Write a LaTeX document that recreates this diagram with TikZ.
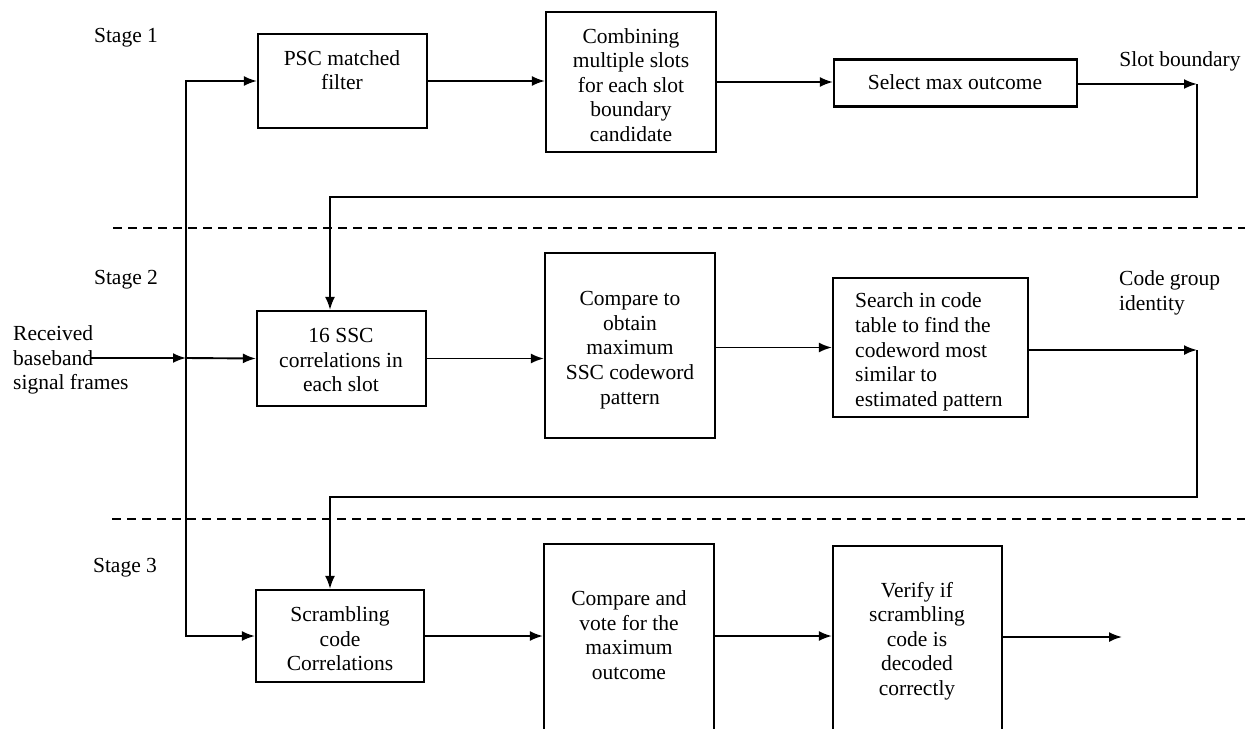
\documentclass[tikz,border=0pt]{standalone}
\usepackage{fontspec}
\setmainfont{Liberation Serif}
\usetikzlibrary{arrows.meta}

\tikzset{
  box/.style={draw, line width=2.2pt, inner sep=0pt},
  txt/.style={inner sep=0pt, align=center, font=\fontsize{21.5}{24.6}\selectfont},
  ltxt/.style={inner sep=0pt, align=left, font=\fontsize{21.5}{24.6}\selectfont},
  wire/.style={line width=1.9pt},
  arr/.style={wire, -{Latex[length=13pt,width=10pt]}},
  stagesep/.style={line width=1.7pt, dash pattern=on 9pt off 6pt},
}

\begin{document}
\begin{tikzpicture}[x=1pt, y=-1pt]
  \useasboundingbox (0,0) rectangle (1252,728);
  \clip (0,0) rectangle (1252,728);
  \fill[white] (0,0) rectangle (1252,728);

  % stage labels and separators
  \node[txt] (st1) at (126,38) {Stage 1};
  \node[txt] (st2) at (126,280) {Stage 2};
  \node[txt] (st3) at (125,568) {Stage 3};
  \coordinate (d1a) at (113,228);  \coordinate (d1b) at (1245,228);
  \coordinate (d2a) at (112,519);  \coordinate (d2b) at (1245,519);
  \draw[stagesep] (d1a) -- (d1b);
  \draw[stagesep] (d2a) -- (d2b);

  % stage 1 blocks
  \node[box, minimum width=169pt, minimum height=94pt] (psc) at (342.5,81) {};
  \node[txt] (psct) at (342,70) {PSC matched\\filter};
  \node[box, minimum width=170pt, minimum height=140pt] (comb) at (631,82) {};
  \node[txt] (combt) at (631,85) {Combining\\multiple slots\\for each slot\\boundary\\candidate};
  \node[box, minimum width=243pt, minimum height=47pt] (sel) at (955.5,83) {};
  \node[txt] (selt) at (955,82) {Select max outcome};
  \node[txt] (slotb) at (1180,61) {Slot boundary};

  % stage 2 blocks
  \node[box, minimum width=169pt, minimum height=95pt] (ssc) at (341.5,358.5) {};
  \node[txt] (ssct) at (341,360) {16 SSC\\correlations in\\each slot};
  \node[box, minimum width=170pt, minimum height=185pt] (cmp) at (630,345.5) {};
  \node[txt] (cmpt) at (630,350) {Compare to\\obtain\\maximum\\SSC codeword\\pattern};
  \node[box, minimum width=195pt, minimum height=139pt] (srch) at (930.5,347.5) {};
  \node[ltxt, anchor=west] (srcht) at (855,352) {Search in code\\table to find the\\codeword most\\similar to\\estimated pattern};
  \node[ltxt, anchor=west] (cgid) at (1119,293) {Code group\\identity};

  % stage 3 blocks
  \node[box, minimum width=168pt, minimum height=92pt] (scr) at (340,636) {};
  \node[txt] (scrt) at (340,639) {Scrambling\\code\\Correlations};
  \node[box, minimum width=170pt, minimum height=196pt] (vote) at (629,642) {};
  \node[txt] (votet) at (629,635) {Compare and\\vote for the\\maximum\\outcome};
  \node[box, minimum width=169pt, minimum height=194pt] (ver) at (917.5,643) {};
  \node[txt] (vert) at (917,641) {Verify if\\scrambling\\code is\\decoded\\correctly};

  % received signal and distribution line
  \node[ltxt, anchor=west] (rx) at (13,360) {Received\\baseband\\signal frames};
  \coordinate (rxo) at (90,358);
  \coordinate (junc) at (186,358);
  \draw[arr] (rxo) -- (junc);
  \draw[arr] (junc) |- (psc.west);
  \draw[arr] (junc) |- (scr.west);
  \draw[arr] (junc) -- (ssc.west);

  % stage 1 chain and slot boundary feedback
  \draw[arr] (psc.east) -- (psc.east -| comb.west);
  \draw[arr] (comb.east) -- (comb.east -| sel.west);
  \coordinate (sb) at (1197,84);
  \coordinate (fb1) at (330,197);
  \draw[arr] (sel.east |- sb) -- (sb);
  \draw[arr] (sb) |- (fb1) -- (fb1 |- ssc.north);

  % stage 2 chain and code group feedback
  \draw[arr] (ssc.east) -- (ssc.east -| cmp.west);
  \draw[arr] (cmp.east |- srch.west) -- (srch.west);
  \coordinate (cg) at (1197,350);
  \coordinate (fb2) at (330,497);
  \draw[arr] (srch.east |- cg) -- (cg);
  \draw[arr] (cg) |- (fb2) -- (fb2 |- scr.north);

  % stage 3 chain
  \draw[arr] (scr.east) -- (vote.west |- scr.east);
  \draw[arr] (vote.east |- scr.east) -- (ver.west |- scr.east);
  \coordinate (out) at (1122,637);
  \draw[arr] (ver.east |- out) -- (out);
\end{tikzpicture}
\end{document}
